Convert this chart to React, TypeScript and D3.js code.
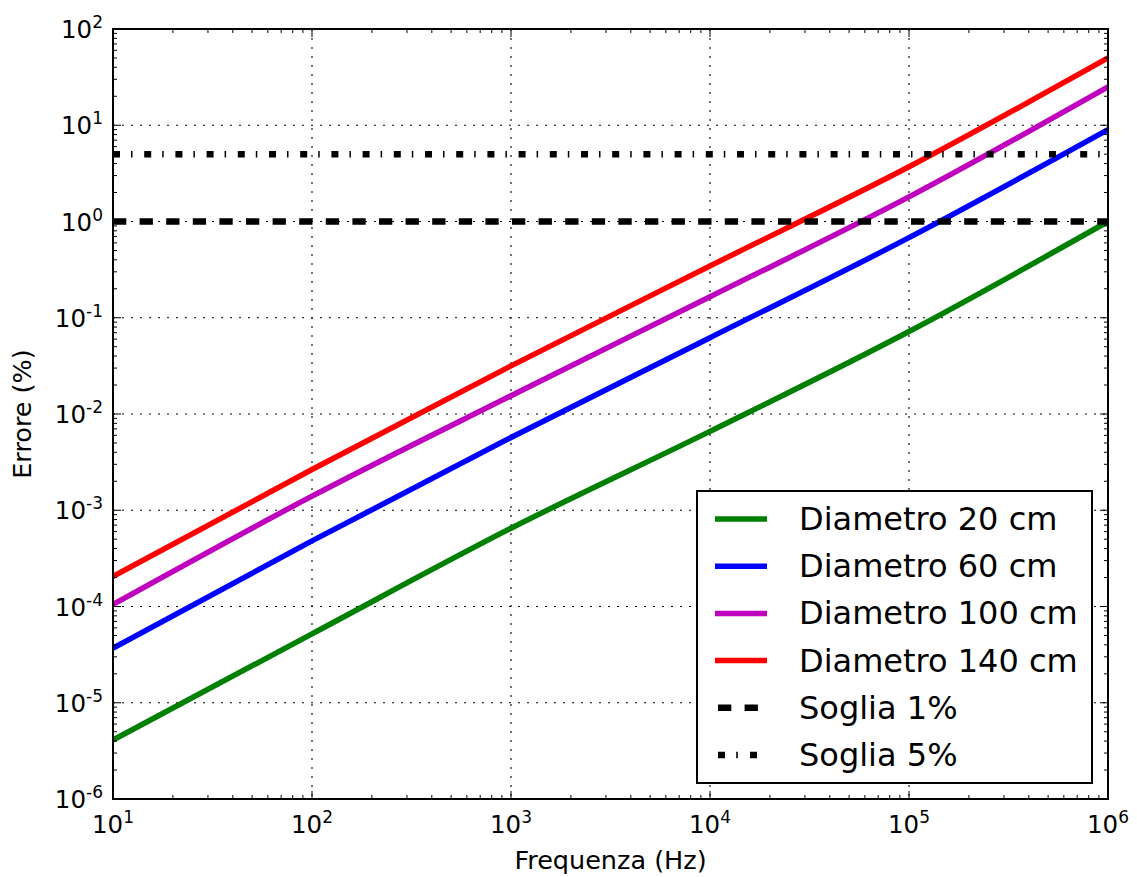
import React from "react";
import * as d3 from "d3";

const freqs = [1e1, 1e2, 1e3, 1e4, 1e5, 1e6];
const d20 = [4.1e-6, 5.2e-5, 6.5e-4, 6.6e-3, 0.072, 1.0];
const d60 = [3.7e-5, 4.8e-4, 5.7e-3, 0.062, 0.68, 9.0];
const d100 = [1.05e-4, 1.4e-3, 0.0155, 0.165, 1.8, 25];
const d140 = [2.05e-4, 2.65e-3, 0.0316, 0.345, 3.7, 50];
const seriesNames = ["Diametro 20 cm", "Diametro 60 cm", "Diametro 100 cm", "Diametro 140 cm"];
const seriesColors = ["#008000", "#0000ff", "#bf00bf", "#ff0000"];
const thresholds = [1, 5];
const thresholdNames = ["Soglia 1%", "Soglia 5%"];
const xTickExps = [1, 2, 3, 4, 5, 6];
const yTickExps = [-6, -5, -4, -3, -2, -1, 0, 1, 2];

const W = 1137, H = 877;
const L = 113, R = 1108, T = 29, B = 799;
const FONT = "DejaVu Sans, sans-serif";

export default function App() {
  const x = d3.scaleLog().domain([10, 1e6]).range([L, R]);
  const y = d3.scaleLog().domain([1e-6, 1e2]).range([B, T]);
  const all = [d20, d60, d100, d140];
  const line = d3
    .line<number>()
    .x((_, i) => x(freqs[i]))
    .y((v) => y(v))
    .curve(d3.curveMonotoneX);

  const xMinor: number[] = [];
  for (let e = 1; e < 6; e++) for (let k = 2; k <= 9; k++) xMinor.push(k * Math.pow(10, e));
  const yMinor: number[] = [];
  for (let e = -6; e < 2; e++) for (let k = 2; k <= 9; k++) yMinor.push(k * Math.pow(10, e));

  const dashStyles = ["13.3 13.3", "7 11 1.5 11.7"];
  const legendDash = [
    { arr: "13.3 13.3", off: 23.6 },
    { arr: "7 11.2 1.6 12.2", off: 29 },
  ];

  const legX = 697, legY = 491, legW = 395, legH = 292;
  const rowY0 = 519, rowStep = 47.2;

  return (
    <svg width={W} height={H} style={{ position: "absolute", left: 0, top: 0, background: "#fff" }} fontFamily={FONT}>
      <defs>
        <clipPath id="plotClip">
          <rect x={L} y={T} width={R - L} height={B - T} />
        </clipPath>
      </defs>
      <rect x={0} y={0} width={W} height={H} fill="#fff" />
      {/* grid */}
      <g stroke="#000" strokeWidth={1.1} strokeDasharray="2 7">
        {xTickExps.slice(1, -1).map((e) => (
          <line key={"gx" + e} x1={x(Math.pow(10, e))} x2={x(Math.pow(10, e))} y1={T} y2={B} />
        ))}
        {yTickExps.slice(1, -1).map((e) => (
          <line key={"gy" + e} x1={L} x2={R} y1={y(Math.pow(10, e))} y2={y(Math.pow(10, e))} />
        ))}
      </g>
      {/* series */}
      <g clipPath="url(#plotClip)">
        {all.map((s, i) => (
          <path key={i} d={line(s) || ""} fill="none" stroke={seriesColors[i]} strokeWidth={5.5} />
        ))}
        {thresholds.map((t, i) => (
          <line
            key={"t" + i}
            x1={L}
            x2={R}
            y1={y(t)}
            y2={y(t)}
            stroke="#000"
            strokeWidth={6.5}
            strokeDasharray={dashStyles[i]}
          />
        ))}
      </g>
      {/* ticks */}
      <g stroke="#000" strokeWidth={1}>
        {xTickExps.map((e) => {
          const px = x(Math.pow(10, e));
          return (
            <g key={"xt" + e}>
              <line x1={px} x2={px} y1={B} y2={B - 8} />
              <line x1={px} x2={px} y1={T} y2={T + 8} />
            </g>
          );
        })}
        {xMinor.map((v, i) => {
          const px = x(v);
          return (
            <g key={"xm" + i}>
              <line x1={px} x2={px} y1={B} y2={B - 4} />
              <line x1={px} x2={px} y1={T} y2={T + 4} />
            </g>
          );
        })}
        {yTickExps.map((e) => {
          const py = y(Math.pow(10, e));
          return (
            <g key={"yt" + e}>
              <line x1={L} x2={L + 8} y1={py} y2={py} />
              <line x1={R} x2={R - 8} y1={py} y2={py} />
            </g>
          );
        })}
        {yMinor.map((v, i) => {
          const py = y(v);
          return (
            <g key={"ym" + i}>
              <line x1={L} x2={L + 4} y1={py} y2={py} />
              <line x1={R} x2={R - 4} y1={py} y2={py} />
            </g>
          );
        })}
      </g>
      {/* frame */}
      <rect x={L} y={T} width={R - L} height={B - T} fill="none" stroke="#000" strokeWidth={2} />
      {/* tick labels */}
      <g fill="#000" fontSize={24.5}>
        {xTickExps.map((e) => (
          <text key={"xl" + e} x={x(Math.pow(10, e))} y={B + 34} textAnchor="middle">
            <tspan>10</tspan>
            <tspan dy={-10} fontSize={17}>{String(e)}</tspan>
          </text>
        ))}
        {yTickExps.map((e) => (
          <text key={"yl" + e} x={L - 10} y={y(Math.pow(10, e)) + 9} textAnchor="end">
            <tspan>10</tspan>
            <tspan dy={-10} fontSize={17}>{e < 0 ? "-" + String(-e) : String(e)}</tspan>
          </text>
        ))}
      </g>
      {/* axis labels */}
      <text x={(L + R) / 2} y={869} textAnchor="middle" fontSize={25.5} fill="#000">
        Frequenza (Hz)
      </text>
      <text transform={`translate(31, ${(T + B) / 2}) rotate(-90)`} textAnchor="middle" fontSize={25.5} fill="#000">
        Errore (%)
      </text>
      {/* legend */}
      <rect x={legX} y={legY} width={legW} height={legH} fill="#fff" stroke="#000" strokeWidth={2} />
      {seriesNames.map((n, i) => {
        const ry = rowY0 + i * rowStep;
        return (
          <g key={"lg" + i}>
            <line x1={715} x2={767} y1={ry} y2={ry} stroke={seriesColors[i]} strokeWidth={5.5} />
            <text x={799} y={ry + 11} fontSize={32} fill="#000">
              {n}
            </text>
          </g>
        );
      })}
      {thresholdNames.map((n, i) => {
        const ry = rowY0 + (i + 4) * rowStep;
        return (
          <g key={"lt" + i}>
            <line
              x1={715}
              x2={767}
              y1={ry}
              y2={ry}
              stroke="#000"
              strokeWidth={6.5}
              strokeDasharray={legendDash[i].arr}
              strokeDashoffset={legendDash[i].off}
            />
            <text x={799} y={ry + 11} fontSize={32} fill="#000">
              {n}
            </text>
          </g>
        );
      })}
    </svg>
  );
}
